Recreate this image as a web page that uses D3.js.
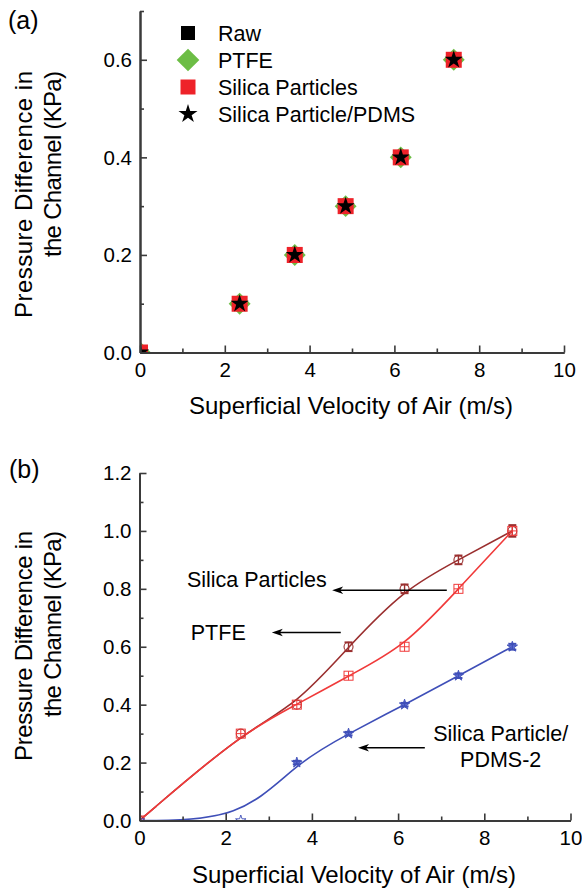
<!DOCTYPE html>
<html><head><meta charset="utf-8">
<script src="https://cdn.jsdelivr.net/npm/d3@7"></script>
<style>
body{margin:0;background:#fff}
svg{display:block;font-family:"Liberation Sans",Arial,Helvetica,sans-serif}
</style>
</head><body>
<svg id="chart" width="582" height="889"></svg>
<script>
// ---------- Panel (a) data ----------
const velocityA = [0, 2.35, 3.65, 4.85, 6.15, 7.4];
const rawA      = [0, 0.1, 0.2, 0.3, 0.4, 0.6];
const ptfeA     = [0, 0.1, 0.2, 0.3, 0.4, 0.6];
const silicaA   = [0, 0.1, 0.2, 0.3, 0.4, 0.6];
const pdmsA     = [0, 0.1, 0.2, 0.3, 0.4, 0.6];
const legendA   = ["Raw", "PTFE", "Silica Particles", "Silica Particle/PDMS"];

// ---------- Panel (b) data ----------
const velocityB  = [0, 2.35, 3.65, 4.85, 6.15, 7.4, 8.65];
const silicaB    = [0, 0.3, 0.4, 0.6, 0.8, 0.9, 1.0];
const silicaErrB = [0, 0, 0, 0.015, 0.015, 0.015, 0.02];
const ptfeB      = [0, 0.3, 0.4, 0.5, 0.6, 0.8, 1.0];
const pdmsB      = [0, 0, 0.2, 0.3, 0.4, 0.5, 0.6];
const pdmsErrB   = [0, 0, 0.006, 0.006, 0.006, 0.008, 0.01];

// ---------- ticks ----------
const xMajor  = [0, 2, 4, 6, 8, 10];
const xMinor  = [1, 3, 5, 7, 9];
const yMajorA = [0, 0.2, 0.4, 0.6];
const yMinorA = [0.1, 0.3, 0.5, 0.7];
const yMajorB = [0, 0.2, 0.4, 0.6, 0.8, 1.0, 1.2];
const yMinorB = [0.1, 0.3, 0.5, 0.7, 0.9, 1.1];

// ---------- annotations (b), in data units ----------
const annoLabels = [
  {lines: ["Silica Particles"], x: 1.1, y: 0.806, anchor: "start"},
  {lines: ["PTFE"], x: 1.19, y: 0.624, anchor: "start"},
  {lines: ["Silica Particle/", "PDMS-2"], x: 8.38, y: 0.276, anchor: "middle"}
];
const annoArrows = [
  {x1: 7.13, x2: 4.47, y: 0.795},
  {x1: 4.67, x2: 3.07, y: 0.649},
  {x1: 6.62, x2: 5.07, y: 0.251}
];

const svg = d3.select("#chart");
const AXIS = "#3a3a3a";
const TICKFONT = 20.5;

function drawAxes(g, x, y, yMajor, yMinor, fmt) {
  const xa = g.append("g").attr("transform", `translate(0,${y.range()[0]})`)
    .call(d3.axisBottom(x).tickValues(xMajor).tickFormat(d3.format("d"))
      .tickSizeInner(-7).tickSizeOuter(0).tickPadding(10));
  const xm = g.append("g").attr("transform", `translate(0,${y.range()[0]})`)
    .call(d3.axisBottom(x).tickValues(xMinor).tickFormat("").tickSizeInner(-4).tickSizeOuter(0));
  const ya = g.append("g").attr("transform", `translate(${x.range()[0]},0)`)
    .call(d3.axisLeft(y).tickValues(yMajor).tickFormat(fmt)
      .tickSizeInner(-7).tickSizeOuter(0).tickPadding(8));
  const ym = g.append("g").attr("transform", `translate(${x.range()[0]},0)`)
    .call(d3.axisLeft(y).tickValues(yMinor).tickFormat("").tickSizeInner(-4).tickSizeOuter(0));
  [xa, xm, ya, ym].forEach(a => {
    a.select(".domain").attr("stroke", AXIS).attr("stroke-width", 2);
    a.selectAll(".tick line").attr("stroke", AXIS).attr("stroke-width", 1.6);
    a.selectAll(".tick text").attr("fill", "#000").attr("font-size", TICKFONT)
      .attr("font-family", '"Liberation Sans",Arial,sans-serif');
  });
  ya.selectAll(".tick text").attr("dy", "0.34em");
}

function yTitle(g, yEnd, len1) {
  const t = g.append("g").attr("font-size", 24).attr("fill", "#000");
  t.append("text").attr("transform", `translate(32,${yEnd}) rotate(-90)`)
    .attr("text-anchor", "end").attr("textLength", len1).attr("lengthAdjust", "spacing")
    .text("Pressure Difference in");
  t.append("text").attr("transform", `translate(61,${yEnd}) rotate(-90)`)
    .attr("text-anchor", "end").attr("textLength", 186).attr("lengthAdjust", "spacing")
    .text("the Channel (KPa)");
}

function xTitle(g, x, baseline) {
  g.append("text").attr("x", (x.range()[0] + x.range()[1]) / 2 - 1).attr("y", baseline)
    .attr("text-anchor", "middle").attr("font-size", 24).attr("fill", "#000")
    .text("Superficial Velocity of Air (m/s)");
}

// =================== Panel (a) ===================
const xA = d3.scaleLinear().domain([0, 10]).range([140, 564]);
const yA = d3.scaleLinear().domain([0, 0.7]).range([352.5, 11]);
const gA = svg.append("g");

gA.append("text").attr("x", 8).attr("y", 29).attr("font-size", 25).text("(a)");

svg.append("clipPath").attr("id", "clipA").append("rect")
  .attr("x", xA.range()[0]).attr("y", yA.range()[1] - 20)
  .attr("width", xA.range()[1] - xA.range()[0] + 20).attr("height", yA.range()[0] - yA.range()[1] + 20);

const symSquare = (s) => d3.symbol(d3.symbolSquare, s * s)();
const symStar = (r) => d3.symbol(d3.symbolStar, r * r / 0.8908130915292852)();

const seriesA = [
  {vals: rawA, path: symSquare(14), fill: "#000", rot: 0},
  {vals: ptfeA, path: symSquare(15.5), fill: "#6cbd45", rot: 45},
  {vals: silicaA, path: symSquare(16), fill: "#ee2229", rot: 0},
  {vals: pdmsA, path: symStar(9.5), fill: "#000", rot: 0}
];
const ptsA = gA.append("g").attr("clip-path", "url(#clipA)");
seriesA.forEach(s => {
  ptsA.selectAll(null).data(velocityA.map((v, i) => [v, s.vals[i]])).join("path")
    .attr("d", s.path).attr("fill", s.fill)
    .attr("transform", d => `translate(${xA(d[0])},${yA(d[1])}) rotate(${s.rot})`);
});

drawAxes(gA, xA, yA, yMajorA, yMinorA, d3.format(".1f"));
yTitle(gA, 71, 247);
xTitle(gA, xA, 414);

// legend
const legRows = [33, 60, 87, 114];
const legSyms = [
  {path: symSquare(14), fill: "#000", rot: 0},
  {path: symSquare(16), fill: "#6cbd45", rot: 45},
  {path: symSquare(15), fill: "#ee2229", rot: 0},
  {path: symStar(10), fill: "#000", rot: 0}
];
const leg = gA.append("g");
legendA.forEach((name, i) => {
  leg.append("path").attr("d", legSyms[i].path).attr("fill", legSyms[i].fill)
    .attr("transform", `translate(188,${legRows[i]}) rotate(${legSyms[i].rot})`);
  leg.append("text").attr("x", 218).attr("y", legRows[i] + 7.6)
    .attr("font-size", 21.5).attr("fill", "#000").text(name);
});

// =================== Panel (b) ===================
const xB = d3.scaleLinear().domain([0, 10]).range([139.5, 570.5]);
const yB = d3.scaleLinear().domain([0, 1.2]).range([820.5, 473]);
const gB = svg.append("g");

gB.append("text").attr("x", 9).attr("y", 478).attr("font-size", 25).text("(b)");

svg.append("clipPath").attr("id", "clipB").append("rect")
  .attr("x", xB.range()[0]).attr("y", yB.range()[1] - 20)
  .attr("width", xB.range()[1] - xB.range()[0] + 20).attr("height", yB.range()[0] - yB.range()[1] + 20);

const BROWN = "#9a2f2f", RED = "#f03a3a", BLUE = "#3f4fb8";
const line = d3.line().x(d => xB(d[0])).y(d => yB(d[1])).curve(d3.curveBasis);
const plotB = gB.append("g").attr("clip-path", "url(#clipB)");

const dataSil = velocityB.map((v, i) => [v, silicaB[i], silicaErrB[i]]);
const dataPtfe = velocityB.map((v, i) => [v, ptfeB[i], 0]);
const dataPdms = velocityB.map((v, i) => [v, pdmsB[i], pdmsErrB[i]]);

plotB.append("path").datum(dataSil).attr("d", line).attr("fill", "none").attr("stroke", BROWN).attr("stroke-width", 1.6);
plotB.append("path").datum(dataPtfe).attr("d", line).attr("fill", "none").attr("stroke", RED).attr("stroke-width", 1.6);
plotB.append("path").datum(dataPdms).attr("d", line).attr("fill", "none").attr("stroke", BLUE).attr("stroke-width", 1.6);

function errBars(data, color) {
  const g = plotB.append("g").attr("stroke", color).attr("stroke-width", 1.4);
  data.filter(d => d[2] > 0).forEach(d => {
    const cx = xB(d[0]), y1 = yB(d[1] + d[2]), y2 = yB(d[1] - d[2]);
    g.append("line").attr("x1", cx).attr("x2", cx).attr("y1", y1).attr("y2", y2);
    g.append("line").attr("x1", cx - 4).attr("x2", cx + 4).attr("y1", y1).attr("y2", y1).attr("stroke-width", 2);
    g.append("line").attr("x1", cx - 4).attr("x2", cx + 4).attr("y1", y2).attr("y2", y2).attr("stroke-width", 2);
  });
}

// Silica particles markers: open circles
plotB.append("g").selectAll("circle").data(dataSil).join("circle")
  .attr("cx", d => xB(d[0])).attr("cy", d => yB(d[1])).attr("r", 4.5)
  .attr("fill", "none").attr("stroke", BROWN).attr("stroke-width", 1.1);
errBars(dataSil, BROWN);

// PTFE markers: squares with cross
const pm = plotB.append("g").attr("stroke", RED).attr("stroke-width", 1).attr("fill", "none");
dataPtfe.forEach(d => {
  const cx = xB(d[0]), cy = yB(d[1]);
  pm.append("rect").attr("x", cx - 4.5).attr("y", cy - 4.5).attr("width", 9).attr("height", 9);
  pm.append("line").attr("x1", cx - 4.5).attr("x2", cx + 4.5).attr("y1", cy).attr("y2", cy);
  pm.append("line").attr("x1", cx).attr("x2", cx).attr("y1", cy - 4.5).attr("y2", cy + 4.5);
});

// PDMS markers: stars
plotB.append("g").selectAll("path").data(dataPdms).join("path")
  .attr("d", symStar(5.5))
  .attr("transform", d => `translate(${xB(d[0])},${yB(d[1])})`)
  .attr("fill", (d, i) => d[1] === 0 ? "none" : "#5d6cd0")
  .attr("stroke", BLUE).attr("stroke-width", 0.9);
errBars(dataPdms, BLUE);

drawAxes(gB, xB, yB, yMajorB, yMinorB, d3.format(".1f"));
yTitle(gB, 531, 230);
xTitle(gB, xB, 883);

// annotations: arrows pointing left
annoArrows.forEach(a => {
  const xs = xB(a.x1), xe = xB(a.x2), yy = yB(a.y);
  gB.append("line").attr("x1", xs).attr("x2", xe + 6)
    .attr("y1", yy).attr("y2", yy)
    .attr("stroke", "#000").attr("stroke-width", 1.4);
  gB.append("path")
    .attr("d", `M${xe},${yy} L${xe + 11},${yy - 3.8} L${xe + 8},${yy} L${xe + 11},${yy + 3.8} Z`)
    .attr("fill", "#000");
});
annoLabels.forEach(l => {
  l.lines.forEach((t, i) => {
    gB.append("text").attr("x", xB(l.x)).attr("y", yB(l.y) + i * 26.5)
      .attr("text-anchor", l.anchor).attr("font-size", 21.5).attr("fill", "#000").text(t);
  });
});
</script>
</body></html>
